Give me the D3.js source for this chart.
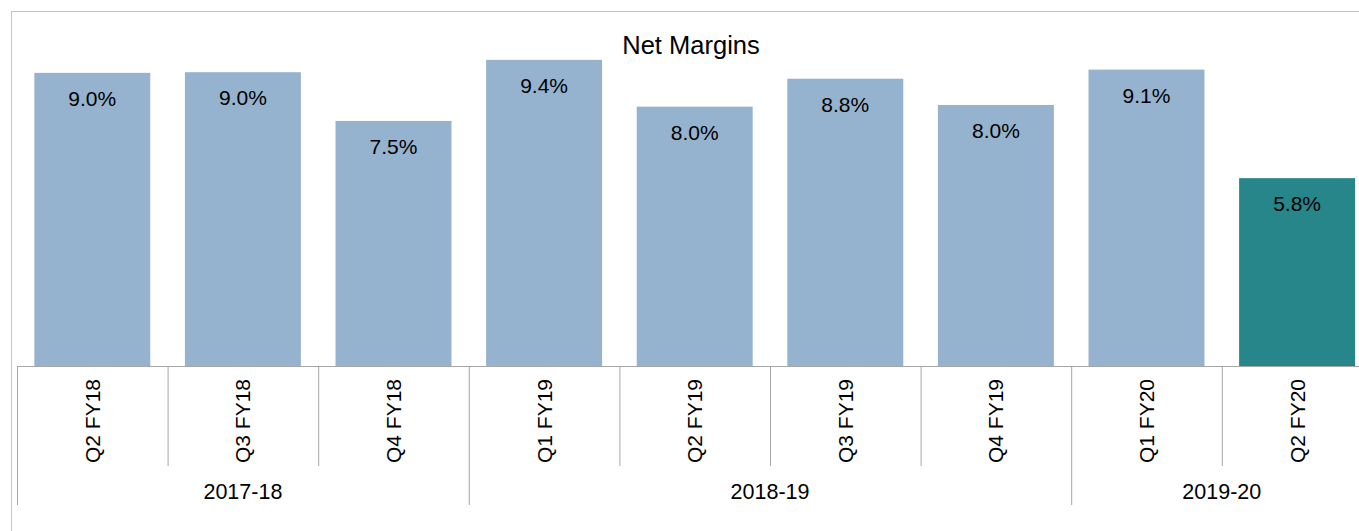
<!DOCTYPE html>
<html>
<head>
<meta charset="utf-8">
<script src="https://cdn.jsdelivr.net/npm/d3@7"></script>
<style>
  body { margin: 0; background: #fff; }
  text { font-family: "Liberation Sans", Arial, sans-serif; fill: #000; }
</style>
</head>
<body>
<div id="target"></div>
<script>
var width = 1359,
    height = 531;

// data
var quarters = ['Q2 FY18', 'Q3 FY18', 'Q4 FY18', 'Q1 FY19', 'Q2 FY19', 'Q3 FY19', 'Q4 FY19', 'Q1 FY20', 'Q2 FY20'];
var margins = [9.02, 9.04, 7.54, 9.42, 7.98, 8.84, 8.03, 9.12, 5.78];
var years = ['2017-18', '2018-19', '2019-20'];
var yearSpan = [3, 4, 2];

var baseY = 366;
var xScale = d3.scaleBand().domain(quarters).range([17, 17 + 150.6 * 9]).paddingInner(0.23).paddingOuter(0.115);
var yScale = d3.scaleLinear().domain([0, 10]).range([baseY, baseY - 325]);

var svg = d3.select('#target').append('svg')
    .attr('width', width)
    .attr('height', height);

// outer frame
svg.append('rect')
    .attr('x', 11.5).attr('y', 11.5)
    .attr('width', width + 20).attr('height', height + 20)
    .attr('fill', 'none')
    .attr('stroke', '#c4c4c4');

svg.append('text')
    .attr('x', 691).attr('y', 54)
    .attr('text-anchor', 'middle')
    .style('font-size', '25.5px')
    .text('Net Margins');

svg.selectAll('rect.bar')
    .data(margins)
    .enter()
    .append('rect')
    .attr('class', 'bar')
    .attr('x', function (d, i) { return xScale(quarters[i]); })
    .attr('width', xScale.bandwidth())
    .attr('y', function (d) { return yScale(d); })
    .attr('height', function (d) { return baseY - yScale(d); })
    .attr('fill', function (d, i) { return i == quarters.length - 1 ? '#27868a' : '#95b3ce'; });

svg.selectAll('text.val')
    .data(margins)
    .enter()
    .append('text')
    .attr('class', 'val')
    .attr('x', function (d, i) { return xScale(quarters[i]) + xScale.bandwidth() / 2; })
    .attr('y', function (d) { return yScale(d) + 33; })
    .attr('text-anchor', 'middle')
    .style('font-size', '21px')
    .text(function (d) { return d.toFixed(1) + '%'; });

// category axis
var step = xScale.step();
var x0 = 17;
svg.append('line')
    .attr('x1', x0).attr('x2', width + 5)
    .attr('y1', baseY + 0.5).attr('y2', baseY + 0.5)
    .attr('stroke', '#a6a6a6');

var starts = [0];
yearSpan.forEach(function (s, i) { starts.push(starts[i] + s); });

d3.range(quarters.length + 1).forEach(function (i) {
    var isGroup = starts.indexOf(i) >= 0;
    svg.append('line')
        .attr('x1', x0 + i * step + 0.5).attr('x2', x0 + i * step + 0.5)
        .attr('y1', baseY).attr('y2', isGroup ? 505 : 466)
        .attr('stroke', '#a6a6a6');
});

svg.selectAll('text.cat')
    .data(quarters)
    .enter()
    .append('text')
    .attr('class', 'cat')
    .attr('transform', function (d) {
        return 'translate(' + (xScale(d) + xScale.bandwidth() / 2) + ',421) rotate(-90)';
    })
    .attr('text-anchor', 'middle')
    .attr('dominant-baseline', 'central')
    .style('font-size', '21px')
    .text(function (d) { return d; });

svg.selectAll('text.year')
    .data(years)
    .enter()
    .append('text')
    .attr('class', 'year')
    .attr('x', function (d, i) { return x0 + (starts[i] + yearSpan[i] / 2) * step; })
    .attr('y', 499)
    .attr('text-anchor', 'middle')
    .style('font-size', '21.5px')
    .text(function (d) { return d; });
</script>
</body>
</html>
